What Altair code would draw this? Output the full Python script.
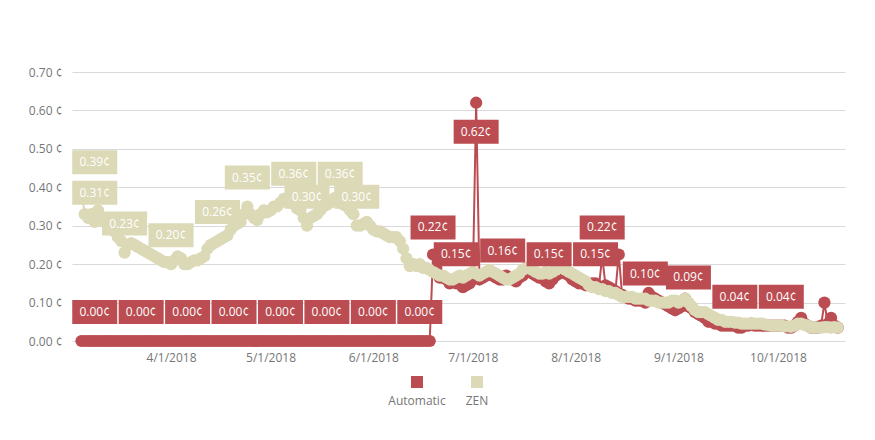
import altair as alt
import pandas as pd
from datetime import date, timedelta

FONT = "Segoe UI, Open Sans, sans-serif"
GREY = "#767676"

series_names = ["Automatic", "ZEN"]
series_colors = ["#bb4d52", "#dbd9b6"]

start_day = date(2018, 3, 5)

zen_values = [
    0.39, 0.33, 0.32, 0.33, 0.31, 0.34, 0.32, 0.31, 0.30, 0.29,
    0.285, 0.27, 0.26, 0.23, 0.25, 0.255, 0.25, 0.245, 0.24, 0.235,
    0.23, 0.225, 0.22, 0.215, 0.21, 0.205, 0.205, 0.20, 0.21, 0.22,
    0.215, 0.20, 0.20, 0.205, 0.21, 0.21, 0.215, 0.22, 0.24, 0.25,
    0.255, 0.26, 0.265, 0.27, 0.275, 0.29, 0.30, 0.305, 0.31, 0.33,
    0.35, 0.33, 0.32, 0.315, 0.33, 0.34, 0.335, 0.34, 0.35, 0.35,
    0.36, 0.37, 0.365, 0.36, 0.36, 0.345, 0.34, 0.32, 0.30, 0.32,
    0.325, 0.33, 0.34, 0.35, 0.355, 0.36, 0.37, 0.375, 0.36, 0.355,
    0.35, 0.34, 0.33, 0.30, 0.30, 0.305, 0.31, 0.30, 0.29, 0.285,
    0.285, 0.28, 0.275, 0.27, 0.27, 0.27, 0.26, 0.24, 0.215, 0.195,
    0.20, 0.195, 0.20, 0.19, 0.19, 0.185, 0.18, 0.175, 0.17, 0.17,
    0.165, 0.16, 0.16, 0.165, 0.17, 0.165, 0.17, 0.175, 0.18, 0.175,
    0.17, 0.175, 0.18, 0.185, 0.18, 0.175, 0.17, 0.165, 0.16, 0.16,
    0.165, 0.17, 0.175, 0.185, 0.19, 0.19, 0.185, 0.18, 0.175, 0.175,
    0.18, 0.175, 0.18, 0.185, 0.19, 0.19, 0.185, 0.18, 0.175, 0.17,
    0.165, 0.16, 0.155, 0.145, 0.14, 0.14, 0.135, 0.135, 0.13, 0.13,
    0.125, 0.125, 0.12, 0.115, 0.115, 0.115, 0.115, 0.11, 0.11, 0.11,
    0.11, 0.105, 0.105, 0.105, 0.10, 0.10, 0.10, 0.10, 0.105, 0.105,
    0.10, 0.105, 0.11, 0.10, 0.09, 0.08, 0.075, 0.075, 0.075, 0.07,
    0.065, 0.06, 0.055, 0.055, 0.05, 0.05, 0.05, 0.048, 0.048, 0.045,
    0.045, 0.045, 0.045, 0.045, 0.045, 0.045, 0.043, 0.042, 0.04, 0.04,
    0.04, 0.04, 0.038, 0.038, 0.037, 0.04, 0.045, 0.045, 0.042, 0.04,
    0.035, 0.035, 0.035, 0.035, 0.036, 0.036, 0.035, 0.036, 0.035,
]

auto_values = [0.0] * 106 + [
    0.225, 0.19, 0.165, 0.165, 0.16, 0.15, 0.155, 0.15, 0.155, 0.14,
    0.145, 0.15, 0.16, 0.62, 0.16, 0.165, 0.17, 0.175, 0.17, 0.165,
    0.16, 0.16, 0.17, 0.165, 0.16, 0.155, 0.165, 0.17, 0.18, 0.185,
    0.175, 0.17, 0.165, 0.165, 0.155, 0.15, 0.16, 0.17, 0.175, 0.18,
    0.175, 0.17, 0.16, 0.155, 0.15, 0.15, 0.145, 0.145, 0.15, 0.15,
    0.14, 0.22, 0.145, 0.14, 0.135, 0.13, 0.225, 0.12, 0.115, 0.11,
    0.11, 0.105, 0.105, 0.105, 0.10, 0.125, 0.115, 0.11, 0.105, 0.10,
    0.095, 0.09, 0.085, 0.08, 0.085, 0.09, 0.11, 0.09, 0.085, 0.075,
    0.07, 0.065, 0.06, 0.05, 0.05, 0.045, 0.045, 0.04, 0.04, 0.04,
    0.04, 0.04, 0.035, 0.035, 0.04, 0.04, 0.045, 0.04, 0.04, 0.04,
    0.04, 0.04, 0.04, 0.04, 0.04, 0.04, 0.04, 0.035, 0.035, 0.04,
    0.05, 0.06, 0.045, 0.04, 0.035, 0.035, 0.035, 0.04, 0.10, 0.045,
    0.06, 0.04, 0.035,
]

auto_label_dates = ["2018-03-09", "2018-03-23", "2018-04-06", "2018-04-20", "2018-05-04",
                    "2018-05-18", "2018-06-01", "2018-06-15", "2018-06-19", "2018-06-26",
                    "2018-07-02", "2018-07-10", "2018-07-24", "2018-08-07", "2018-08-09",
                    "2018-08-22", "2018-09-04", "2018-09-18", "2018-10-02"]
auto_label_values = [0.00, 0.00, 0.00, 0.00, 0.00, 0.00, 0.00, 0.00, 0.22, 0.15,
                     0.62, 0.16, 0.15, 0.15, 0.22, 0.10, 0.09, 0.04, 0.04]

zen_label_dates = ["2018-03-09", "2018-03-09", "2018-03-18", "2018-04-01", "2018-04-15",
                   "2018-04-24", "2018-05-08", "2018-05-12", "2018-05-22", "2018-05-27"]
zen_label_values = [0.39, 0.31, 0.23, 0.20, 0.26, 0.35, 0.36, 0.30, 0.36, 0.30]

month_ticks = [4, 5, 6, 7, 8, 9, 10]
y_ticks = [0.0, 0.1, 0.2, 0.3, 0.4, 0.5, 0.6, 0.7]

# ---- tables ----
n = len(zen_values)
dates = [(start_day + timedelta(days=i)).isoformat() for i in range(n)]
df = pd.DataFrame({
    "date": dates + dates,
    "value": auto_values + zen_values,
    "series": ["Automatic"] * n + ["ZEN"] * n,
})
labels = pd.DataFrame({
    "date": auto_label_dates + zen_label_dates,
    "value": auto_label_values + zen_label_values,
    "series": ["Automatic"] * len(auto_label_dates) + ["ZEN"] * len(zen_label_dates),
})

color_scale = alt.Scale(domain=series_names, range=series_colors)

x_enc = alt.X(
    "date:T",
    scale=alt.Scale(
        type="utc",
        domain=[alt.DateTime(year=2018, month=3, date=2, hours=3, minutes=30, utc=True),
                alt.DateTime(year=2018, month=10, date=21, hours=5, utc=True)],
    ),
    axis=alt.Axis(
        values=[alt.DateTime(year=2018, month=m, date=1, utc=True) for m in month_ticks],
        format="%-m/%-d/%Y", title=None, grid=False, domain=False, ticks=False,
        labelPadding=11, labelColor=GREY, labelFontSize=12, labelFont=FONT,
    ),
)
y_enc = alt.Y(
    "value:Q",
    scale=alt.Scale(domain=[0, 0.7], nice=False, zero=True),
    axis=alt.Axis(
        values=y_ticks, labelExpr="format(datum.value, '.2f') + ' ¢'",
        title=None, domain=False, ticks=False, gridColor="#d9d9d9",
        labelPadding=10, labelColor=GREY, labelFontSize=12, labelFont=FONT,
        minExtent=59, maxExtent=59,
    ),
)
c_enc = alt.Color("series:N", scale=color_scale, legend=None)

layers = []
for name in series_names:
    base = alt.Chart(df).transform_filter(alt.datum.series == name).encode(x=x_enc, y=y_enc, color=c_enc)
    layers.append(base.mark_line(strokeWidth=2))
    layers.append(base.mark_circle(size=150, opacity=1))

box_shape = "M-1,-0.5333L1,-0.5333L1,0.5333L-1,0.5333Z"
lab_base = alt.Chart(labels).transform_calculate(
    txt="format(datum.value, '.2f') + '¢'"
).encode(x=x_enc, y=y_enc)
for cond, off in [(alt.datum.value <= 0.5, -29), (alt.datum.value > 0.5, 29)]:
    lb = lab_base.transform_filter(cond)
    layers.append(lb.mark_point(shape=box_shape, size=2025, filled=True, opacity=1,
                                strokeWidth=0, yOffset=off).encode(color=c_enc))
    layers.append(lb.mark_text(color="white", fontSize=12, font=FONT, baseline="middle",
                               align="center", yOffset=off).encode(text="txt:N"))

main = alt.layer(*layers).properties(width=773, height=269)

# ---- legend ----
leg_df = pd.DataFrame({"series": series_names})
leg_base = alt.Chart(leg_df).encode(
    x=alt.X("series:N",
            scale=alt.Scale(type="point", domain=series_names, range=[345, 405], padding=0),
            axis=None)
)
leg_sq = leg_base.mark_square(size=144, opacity=1).encode(y=alt.value(19), color=c_enc)
leg_tx = leg_base.mark_text(fontSize=12, color=GREY, font=FONT, baseline="middle").encode(
    y=alt.value(38), text="series:N")
legend = alt.layer(leg_sq, leg_tx).properties(width=773, height=45)

chart = alt.vconcat(main, legend, spacing=0).resolve_scale(x="independent").properties(
    padding={"top": 58, "left": 5, "right": 5, "bottom": 5},
    background="white",
).configure_view(stroke=None)

chart.save("out.html", embed_options={"renderer": "svg", "actions": False})
